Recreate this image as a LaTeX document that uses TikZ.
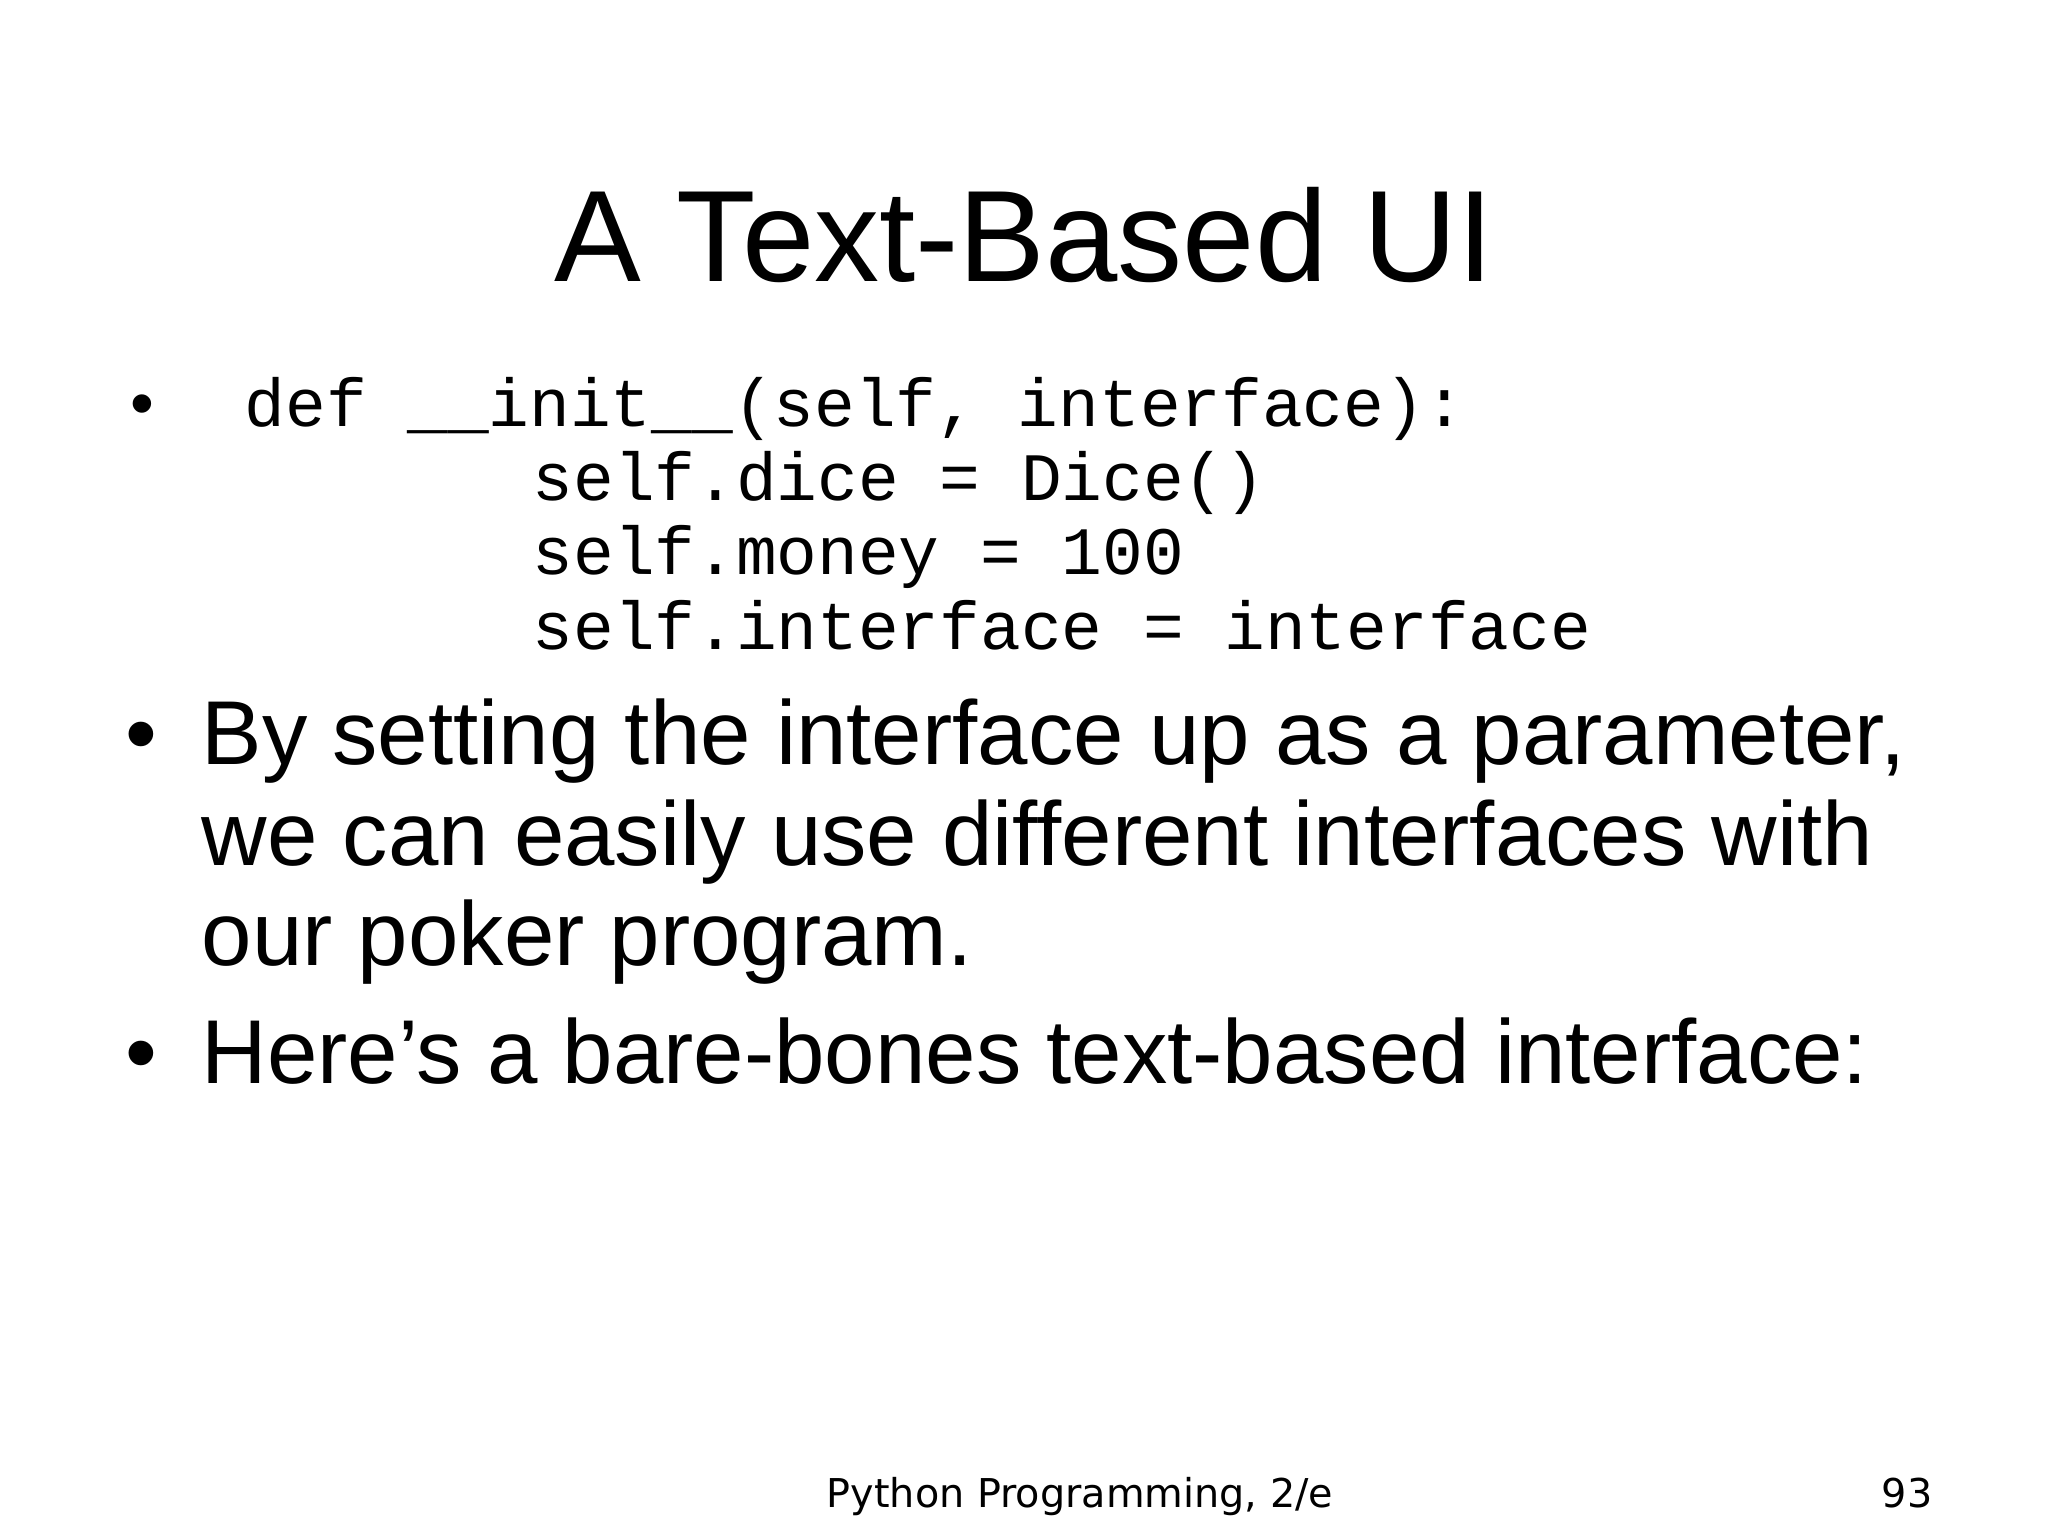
\documentclass[tikz,border=0pt]{standalone}
\usepackage{fontspec}
\setmainfont{Liberation Sans}
\setmonofont{Liberation Mono}
\newfontfamily\footfont{DejaVu Sans}
\begin{document}
\begin{tikzpicture}[x=1cm,y=-1cm,
  txt/.style={anchor=base west,inner sep=0pt},
  code/.style={txt,font=\ttfamily\fontsize{19.3}{22}\selectfont},
  body/.style={txt,font=\fontsize{25.8}{30}\selectfont}]
\useasboundingbox (0,0) rectangle (20.48,15.36);
\node[anchor=base,inner sep=0pt,font=\fontsize{37}{40}\selectfont] (title) at (10.24,2.82) {A Text-Based UI};
\node[txt,font=\fontsize{19.3}{22}\selectfont] (b1) at (1.30,4.27) {•};
\node[code] (c1) at (2.44,4.27) {def \_\_init\_\_(self, interface):};
\node[code] (c2) at (5.32,5.01) {self.dice = Dice()};
\node[code] (c3) at (5.32,5.75) {self.money = 100};
\node[code] (c4) at (5.32,6.50) {self.interface = interface};
\node[body] (b2) at (1.25,7.65) {•};
\node[body] (t1) at (2.01,7.65) {By setting the interface up as a parameter,};
\node[body] (t2) at (2.01,8.66) {we can easily use different interfaces with};
\node[body] (t3) at (2.01,9.65) {our poker program.};
\node[body] (b3) at (1.25,10.83) {•};
\node[body] (t4) at (2.01,10.83) {Here’s a bare-bones text-based interface:};
\node[anchor=base,inner sep=0pt,font=\footfont\fontsize{11.3}{13}\selectfont] (foot) at (10.80,15.07) {Python Programming, 2/e};
\node[anchor=base east,inner sep=0pt,font=\footfont\fontsize{11.3}{13}\selectfont] (num) at (19.33,15.07) {93};
\end{tikzpicture}
\end{document}
